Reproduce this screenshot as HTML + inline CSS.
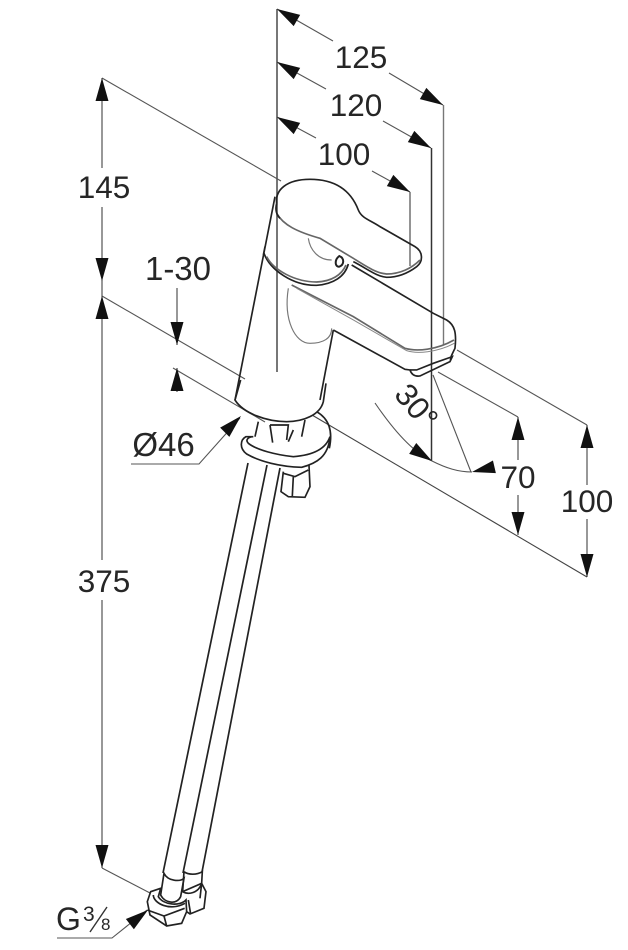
<!DOCTYPE html>
<html><head><meta charset="utf-8"><style>
html,body{margin:0;padding:0;background:#fff}
svg{display:block;filter:blur(.35px)}
text{font-family:"Liberation Sans",sans-serif;font-size:31.5px;fill:#262626}
</style></head><body>
<svg width="628" height="950" viewBox="0 0 628 950" xmlns="http://www.w3.org/2000/svg">
<defs>
<path id="a" d="M0,0 L-23,-6.5 L-23,6.5 Z" fill="#111"/>
</defs>
<g fill="none" stroke="#555" stroke-width="1.1">
<!-- vertical extension lines -->
<path d="M277,9 V372" stroke="#555" stroke-width="1.6"/>
<path d="M443.5,105 V345" stroke="#777" stroke-width="1.4"/>
<path d="M431.5,148 V461" stroke="#333" stroke-width="1.5"/>
<path d="M410,192 V266" stroke="#666" stroke-width="1.4"/>
<!-- top dimensions -->
<path d="M277,9 L333,41 M389,73 L443,105"/>
<path d="M277,62 L326,89 M383,121 L431,148"/>
<path d="M277,117 L316,138 M372,171 L410,192"/>
<!-- left dims -->
<path d="M102,78 V168 M102,207 V296 M102,296 V560 M102,600 V868" stroke="#444"/>
<path d="M102,78 L281,181"/>
<path d="M102,296 L245,379"/>
<path d="M312,415 L587,577" stroke="#444"/>
<path d="M173,368 L265,422"/>
<path d="M177,288 V345 M177,368 V392" stroke="#444"/>
<path d="M102,868 L150,893"/>
<!-- Ø46 leader -->
<path d="M131,464 H199 L240,418"/>
<!-- G leader -->
<path d="M57,938 H112 L147,910"/>
<!-- right ext -->
<path d="M457,350 L587,425"/>
<path d="M438,372 L518,417"/>
<!-- right dims -->
<path d="M518,417 V460 M518,495 V535" stroke="#444"/>
<path d="M587,425 V485 M587,519 V577" stroke="#444"/>
<!-- 30 deg -->
<path d="M375,403 C392,428 412,452 432,461 C446,468 458,472 472,472"/>
<path d="M433,375 L471,472"/>
</g>
<!-- arrowheads -->
<use href="#a" transform="translate(277,9) rotate(210)"/>
<use href="#a" transform="translate(443,105) rotate(30)"/>
<use href="#a" transform="translate(277,62) rotate(210)"/>
<use href="#a" transform="translate(431,148) rotate(30)"/>
<use href="#a" transform="translate(277,117) rotate(210)"/>
<use href="#a" transform="translate(410,192) rotate(30)"/>
<use href="#a" transform="translate(102,78) rotate(-90)"/>
<use href="#a" transform="translate(102,281) rotate(90)"/>
<use href="#a" transform="translate(102,296) rotate(-90)"/>
<use href="#a" transform="translate(102,868) rotate(90)"/>
<use href="#a" transform="translate(177,345) rotate(90)"/>
<use href="#a" transform="translate(177,368) rotate(-90)"/>
<use href="#a" transform="translate(518,417) rotate(-90)"/>
<use href="#a" transform="translate(518,535) rotate(90)"/>
<use href="#a" transform="translate(587,425) rotate(-90)"/>
<use href="#a" transform="translate(587,577) rotate(90)"/>
<use href="#a" transform="translate(432,461) rotate(33)"/>
<use href="#a" transform="translate(472,472) rotate(167)"/>
<use href="#a" transform="translate(241,416) rotate(-45)"/>
<use href="#a" transform="translate(148,910) rotate(-38)"/>
<!-- faucet top -->
<g transform="translate(220,160) scale(0.3333)" fill="none" stroke="#222" stroke-width="5">
<path d="M170,130 C165,90 200,58 270,58 C340,58 390,85 415,150 C425,175 450,180 480,200 L585,260 C610,275 610,305 590,320 C570,335 540,352 500,352 C470,350 440,325 400,305"/>
<path d="M170,160 C190,195 230,215 300,235 L400,295 C440,320 470,340 500,342 C540,342 575,325 600,300" stroke="#666"/>
<path d="M170,130 C165,150 170,165 180,175"/>
<path d="M132,280 C150,330 220,378 290,376 C340,372 375,350 385,312"/>
<path d="M140,290 C160,330 225,366 290,366 C335,364 365,345 378,315" stroke="#666"/>
<path d="M265,235 C270,270 295,300 335,300" stroke="#777" stroke-width="3.5"/>
<path d="M358,288 C342,300 345,322 358,320 C372,315 375,295 358,288 Z" stroke-width="6"/>
<path d="M395,315 L640,460 L680,480 C705,495 710,520 705,565 C695,585 690,595 692,600"/>
<path d="M215,375 L400,470 L555,565 C590,575 650,570 702,540" stroke="#666"/>
<path d="M230,385 L400,480 L560,572 C590,582 650,578 703,550" stroke="#888" stroke-width="3"/>
<path d="M340,510 L555,628 L570,630 C575,645 585,650 600,648 L690,605 L697,590 L640,610 L590,630 L570,630"/>
<path d="M205,385 C190,480 225,550 270,550 C310,550 335,535 335,505" stroke="#777" stroke-width="3.5"/>
<path d="M165,110 L45,720 M135,260 L130,285"/>
<path d="M340,510 L300,720"/>
</g>
<!-- faucet base -->
<g transform="translate(120,380) scale(0.3333)" fill="none" stroke="#222" stroke-width="5">
<path d="M362,0 L345,60 C370,100 440,125 500,125 C550,125 600,105 610,65 L618,10"/>
<path d="M590,95 C625,115 640,150 628,205"/>
<path d="M378,170 C360,180 358,205 380,222 C420,245 480,260 545,262 C590,250 625,230 630,170 C620,200 590,225 520,230 C470,225 410,210 385,190 C375,180 385,170 400,170 Z"/>
<path d="M415,125 L405,170 M450,135 H505 L500,180 M450,135 L458,188 M520,150 L505,185 M555,120 L545,170"/>
<path d="M490,275 L483,335 L505,350 L555,352 L570,320 L567,255"/>
<path d="M520,290 L517,348 M490,280 L525,290 L565,270"/>
</g>
<!-- hoses -->
<g fill="none" stroke="#222" stroke-width="1.7">
<path d="M248,463 L163,873 M267,465 L183,873 M280,468 L202,872"/>
</g>
<!-- bottom fittings -->
<g transform="translate(40,840) scale(0.3333)" fill="none" stroke="#222" stroke-width="5">
<path d="M372,100 L362,165 C375,190 410,195 422,170 L432,115 C420,125 385,125 372,100 Z"/>
<path d="M432,95 L428,155 C445,165 475,160 485,130 L487,95 C470,105 445,105 432,95"/>
<path d="M362,145 L332,155 L322,185 L330,225 L380,258 L425,250 L440,215 L438,180 C420,200 370,195 355,170 Z"/>
<path d="M322,210 L372,228 L434,205 M372,228 L380,258 M340,165 C340,190 390,215 435,190"/>
<path d="M428,155 L485,130 L498,155 L492,205 L450,222 L440,215 M445,180 L452,222 M485,130 L480,175"/>
</g>
<!-- labels -->
<text x="361" y="68" text-anchor="middle">125</text>
<text x="356" y="116" text-anchor="middle">120</text>
<text x="344" y="165" text-anchor="middle">100</text>
<text x="104" y="198" text-anchor="middle">145</text>
<text x="178" y="280" text-anchor="middle" style="font-size:33px">1-30</text>
<text x="104" y="592" text-anchor="middle">375</text>
<text x="163.5" y="456" text-anchor="middle" style="font-size:33px">Ø46</text>
<text x="518" y="488" text-anchor="middle">70</text>
<text x="587" y="512" text-anchor="middle">100</text>
<text transform="translate(393,395) rotate(50)">30°</text>
<text x="56" y="930" style="font-size:32px">G</text>
<text x="83" y="921" style="font-size:21px">3</text>
<text x="101" y="930" style="font-size:17px">8</text>
<path d="M107,907 L90,932" stroke="#333" stroke-width="1.4"/>
</svg>
</body></html>
